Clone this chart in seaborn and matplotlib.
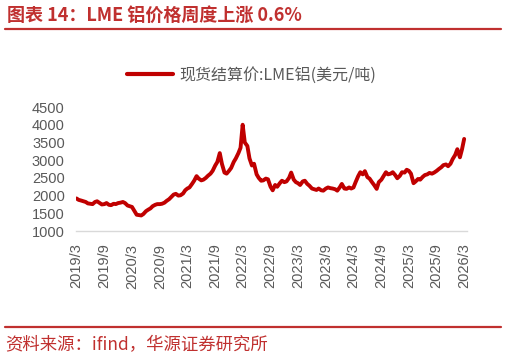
import pandas as pd
import seaborn as sns
import matplotlib.pyplot as plt
import matplotlib.dates as mdates
from matplotlib.lines import Line2D

# LME aluminium spot settlement price (twice a month, USD/t)
start_date = "2019-03-01"
prices = [
    # 2019 (Mar-Dec)
    1920, 1880, 1860, 1840, 1820, 1780, 1770, 1760, 1820, 1840,
    1790, 1750, 1760, 1790, 1740, 1730, 1770, 1760, 1790, 1800,
    # 2020
    1820, 1790, 1720, 1700, 1680, 1580, 1460, 1450, 1440, 1480, 1560, 1600,
    1640, 1700, 1740, 1760, 1760, 1770, 1800, 1850, 1900, 1960, 2030, 2050,
    # 2021
    2000, 2010, 2060, 2150, 2200, 2230, 2330, 2420, 2550, 2480, 2430, 2450,
    2500, 2560, 2620, 2700, 2850, 2950, 3200, 2900, 2650, 2620, 2700, 2780,
    # 2022
    2950, 3050, 3200, 3350, 4000, 3500, 3400, 3050, 2850, 2900, 2600, 2500,
    2420, 2430, 2480, 2460, 2250, 2150, 2300, 2250, 2350, 2420, 2380, 2400,
    # 2023
    2500, 2650, 2450, 2380, 2350, 2300, 2400, 2420, 2330, 2280, 2200, 2180,
    2160, 2200, 2150, 2140, 2200, 2230, 2210, 2200, 2180, 2140, 2230, 2330,
    # 2024
    2200, 2190, 2230, 2200, 2230, 2380, 2550, 2660, 2600, 2690, 2520, 2480,
    2380, 2300, 2190, 2380, 2450, 2550, 2660, 2600, 2620, 2660, 2580, 2490,
    # 2025
    2560, 2660, 2650, 2730, 2700, 2620, 2350, 2400, 2470, 2450, 2530, 2580,
    2600, 2640, 2620, 2650, 2700, 2750, 2800, 2860, 2880, 2830, 2900, 3030,
    # 2026 (Jan-Mar)
    3150, 3310, 3080, 3310, 3600,
]
tick_dates = pd.date_range("2019-03-01", "2026-03-01", freq="6MS")
tick_labels = [f"{d.year}/{d.month}" for d in tick_dates]
y_ticks = [1000, 1500, 2000, 2500, 3000, 3500, 4000, 4500]

title = "图表 14：LME 铝价格周度上涨 0.6%"
series_name = "现货结算价:LME铝(美元/吨)"
source = "资料来源：ifind，华源证券研究所"

df = pd.DataFrame({
    "date": pd.date_range(start_date, periods=len(prices), freq="SMS"),
    "price": prices,
})

sns.set_theme(style="white")
cjk = ["Noto Sans CJK SC", "DejaVu Sans"]
plt.rcParams["font.family"] = ["Liberation Sans", "DejaVu Sans"]

red = "#C00000"
header_red = "#C0302F"
grey = "#595959"

fig = plt.figure(figsize=(5.06, 3.61), dpi=100)
ax = fig.add_axes([0.150, 0.360, 0.773, 0.3435])

sns.lineplot(data=df, x="date", y="price", ax=ax, color=red, linewidth=2.8)

ax.set_xlim(pd.Timestamp("2019-02-25"), pd.Timestamp("2026-03-20"))
ax.set_ylim(1000, 4500)
ax.set_yticks(y_ticks)
ax.set_yticklabels([str(v) for v in y_ticks], color=grey, fontsize=10.5)
ax.set_xticks(tick_dates)
ax.set_xticklabels(tick_labels, rotation=90, color=grey, fontsize=10.5)
ax.xaxis.set_minor_locator(mdates.MonthLocator(bymonth=[]))
ax.set_xlabel("")
ax.set_ylabel("")

for side in ["top", "right", "left"]:
    ax.spines[side].set_visible(False)
ax.spines["bottom"].set_color("#D9D9D9")
ax.spines["bottom"].set_linewidth(1.0)
ax.tick_params(axis="x", which="major", length=4, width=1.0, color="#D9D9D9", pad=5)
ax.tick_params(axis="y", length=0, pad=8)

# legend above the plot
handle = Line2D([], [], color=red, linewidth=3.0)
fig.legend([handle], [series_name], loc="center", bbox_to_anchor=(0.497, 0.792),
           frameon=False, handlelength=2.9, handletextpad=0.4,
           prop={"family": cjk, "size": 11.5}, labelcolor=grey)

# header, rules and source
fig.text(0.014, 0.958, title, color=header_red, fontsize=13, fontweight="bold",
         family=cjk, va="center", ha="left")
fig.add_artist(Line2D([0.010, 0.990], [0.920, 0.920], color=header_red, linewidth=1.6))
fig.add_artist(Line2D([0.010, 0.990], [0.094, 0.094], color=header_red, linewidth=1.6))
fig.text(0.010, 0.044, source, color=header_red, fontsize=12.5, family=cjk,
         va="center", ha="left")

fig.savefig("out.png", dpi=100)
